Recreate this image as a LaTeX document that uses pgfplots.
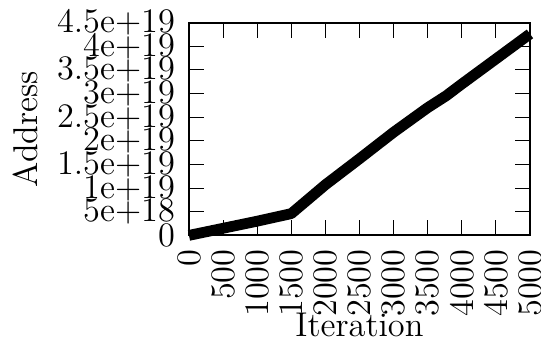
\documentclass[border=0pt]{standalone}
\usepackage{pgfplots}
\pgfplotsset{compat=1.18}
\begin{document}
\begin{tikzpicture}[font=\fontsize{13.4}{16}\selectfont]
\begin{axis}[
  name=ax,
  scale only axis,
  width=133pt, height=83pt,
  xmin=0, xmax=5000, ymin=0, ymax=4.5e19,
  xtick={0,500,...,5000},
  xticklabels={0,500,1000,1500,2000,2500,3000,3500,4000,4500,5000},
  ytick={0,5e18,1e19,1.5e19,2e19,2.5e19,3e19,3.5e19,4e19,4.5e19},
  yticklabels={0,5e+18,1e+19,1.5e+19,2e+19,2.5e+19,3e+19,3.5e+19,4e+19,4.5e+19},
  scaled y ticks=false,
  tick align=inside,
  major tick length=6pt,
  tick label style={font=\fontsize{13.4}{16}\selectfont},
  label style={font=\fontsize{13.4}{16}\selectfont},
  xticklabel style={rotate=90, anchor=east, inner sep=0pt, outer sep=0pt},
  yticklabel style={inner sep=0pt, outer sep=0pt},
  xticklabel shift=5.5pt,
  yticklabel shift=5.5pt,
  xlabel={Iteration},
  ylabel={Address},
  xlabel style={at={(axis description cs:0.5,-0.42)}, anchor=center},
  ylabel style={at={(axis description cs:-0.48,0.5)}, anchor=center, rotate=0},
  clip=false,
  axis line style={line width=0.8pt},
  tick style={line width=0.4pt, black},
]
\addplot[black, line width=4.2pt, line join=round] coordinates {
(0,0) (500,1.5e18) (1000,3e18) (1500,4.6e18) (2000,1.07e19) (2500,1.62e19)
(3000,2.18e19) (3500,2.7e19) (3770,2.95e19) (4000,3.2e19) (4500,3.73e19) (5000,4.26e19)
};
\end{axis}
\pgfresetboundingbox
\path ([shift={(-73.7pt,-39.7pt)}]ax.south west) rectangle ([shift={(137.3pt,91.8pt)}]ax.south west);
\end{tikzpicture}
\end{document}
